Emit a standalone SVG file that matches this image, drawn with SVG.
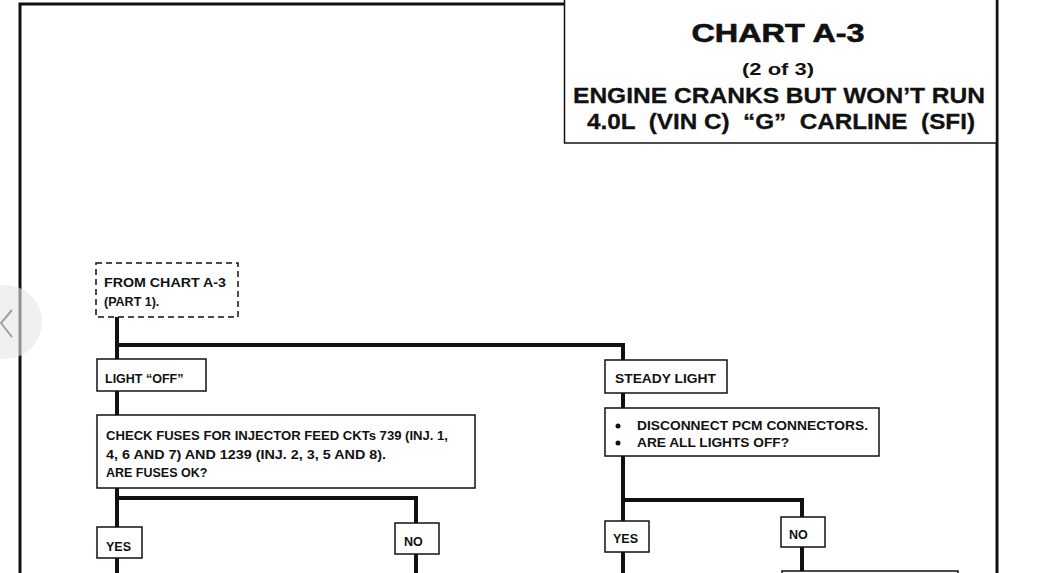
<svg xmlns="http://www.w3.org/2000/svg" width="1044" height="573" viewBox="0 0 1044 573">
<style>
  .t { font-family: "Liberation Sans", Arial, sans-serif; font-weight: bold; fill: #111; }
  .s { font-size: 12.5px; }
  .box { fill: #fff; stroke: #111; stroke-width: 1.5; }
  .ln { fill: none; stroke: #111; stroke-width: 4; stroke-linecap: square; }
  .fr { fill: none; stroke: #111; stroke-width: 3; }
</style>
<rect x="0" y="0" width="1044" height="573" fill="#fff"/>
<g id="frame">
  <path class="fr" d="M20 573 V4 H565"/>
  <path class="fr" d="M997 0 V573"/>
</g>
<g id="title">
  <rect x="564.5" y="-2" width="432" height="145" fill="#fff" stroke="#111" stroke-width="1.5"/>
  <text class="t" x="778" y="42" font-size="25" text-anchor="middle" textLength="173" lengthAdjust="spacingAndGlyphs" stroke="#111" stroke-width="0.6">CHART A-3</text>
  <text class="t" x="778" y="75" font-size="16" text-anchor="middle" textLength="72" lengthAdjust="spacingAndGlyphs">(2 of 3)</text>
  <text class="t" x="779" y="103" font-size="22" text-anchor="middle" textLength="412" lengthAdjust="spacingAndGlyphs" stroke="#111" stroke-width="0.3">ENGINE CRANKS BUT WON’T RUN</text>
  <text class="t" x="781" y="129" font-size="22" text-anchor="middle" textLength="388" lengthAdjust="spacingAndGlyphs" stroke="#111" stroke-width="0.3" xml:space="preserve">4.0L  (VIN C)  “G”  CARLINE  (SFI)</text>
</g>
<g id="connectors">
  <path class="ln" d="M117 317 V573"/>
  <path class="ln" d="M117 345 H623 V360"/>
  <path class="ln" d="M117 498 H416 V573"/>
  <path class="ln" d="M623 393 V573"/>
  <path class="ln" d="M623 500 H802 V571"/>
</g>
<g id="from-chart">
  <rect x="96" y="263" width="142" height="54" fill="#fff" stroke="#111" stroke-width="1.5" stroke-dasharray="6,4"/>
  <text class="t s" x="104" y="287" textLength="122" lengthAdjust="spacingAndGlyphs">FROM CHART A-3</text>
  <text class="t s" x="104" y="306">(PART 1).</text>
</g>
<g id="light-off">
  <rect class="box" x="97" y="359" width="109" height="32"/>
  <text class="t s" x="105" y="383">LIGHT “OFF”</text>
</g>
<g id="check-fuses">
  <rect class="box" x="97" y="415" width="378" height="73"/>
  <text class="t s" x="106" y="440" textLength="342" lengthAdjust="spacingAndGlyphs">CHECK FUSES FOR INJECTOR FEED CKTs 739 (INJ. 1,</text>
  <text class="t s" x="106" y="459" textLength="280" lengthAdjust="spacingAndGlyphs">4, 6 AND 7) AND 1239 (INJ. 2, 3, 5 AND 8).</text>
  <text class="t s" x="106" y="477">ARE FUSES OK?</text>
</g>
<g id="yes-left">
  <rect class="box" x="97" y="527" width="45" height="31"/>
  <text class="t s" x="106" y="551">YES</text>
</g>
<g id="no-left">
  <rect class="box" x="395" y="523" width="44" height="31"/>
  <text class="t s" x="404" y="546">NO</text>
</g>
<g id="steady-light">
  <rect class="box" x="605" y="360" width="122" height="33"/>
  <text class="t s" x="615" y="383" textLength="101" lengthAdjust="spacingAndGlyphs">STEADY LIGHT</text>
</g>
<g id="disconnect-pcm">
  <rect class="box" x="605" y="408" width="274" height="48"/>
  <circle cx="618" cy="426" r="2.5" fill="#111"/>
  <circle cx="618" cy="443" r="2.5" fill="#111"/>
  <text class="t s" x="637" y="430" textLength="231" lengthAdjust="spacingAndGlyphs">DISCONNECT PCM CONNECTORS.</text>
  <text class="t s" x="637" y="447" textLength="152" lengthAdjust="spacingAndGlyphs">ARE ALL LIGHTS OFF?</text>
</g>
<g id="yes-right">
  <rect class="box" x="605" y="521" width="44" height="31"/>
  <text class="t s" x="613" y="543">YES</text>
</g>
<g id="no-right">
  <rect class="box" x="781" y="517" width="44" height="30"/>
  <text class="t s" x="789" y="539">NO</text>
</g>
<g id="next-box">
  <rect class="box" x="782" y="571" width="176" height="20"/>
</g>
<g id="overlay">
  <circle cx="5" cy="322" r="37" fill="#e6e6e6" fill-opacity="0.6"/>
  <polyline points="12,310 1,323 12,337" fill="none" stroke="#a0a0a0" stroke-width="2"/>
</g>
</svg>
